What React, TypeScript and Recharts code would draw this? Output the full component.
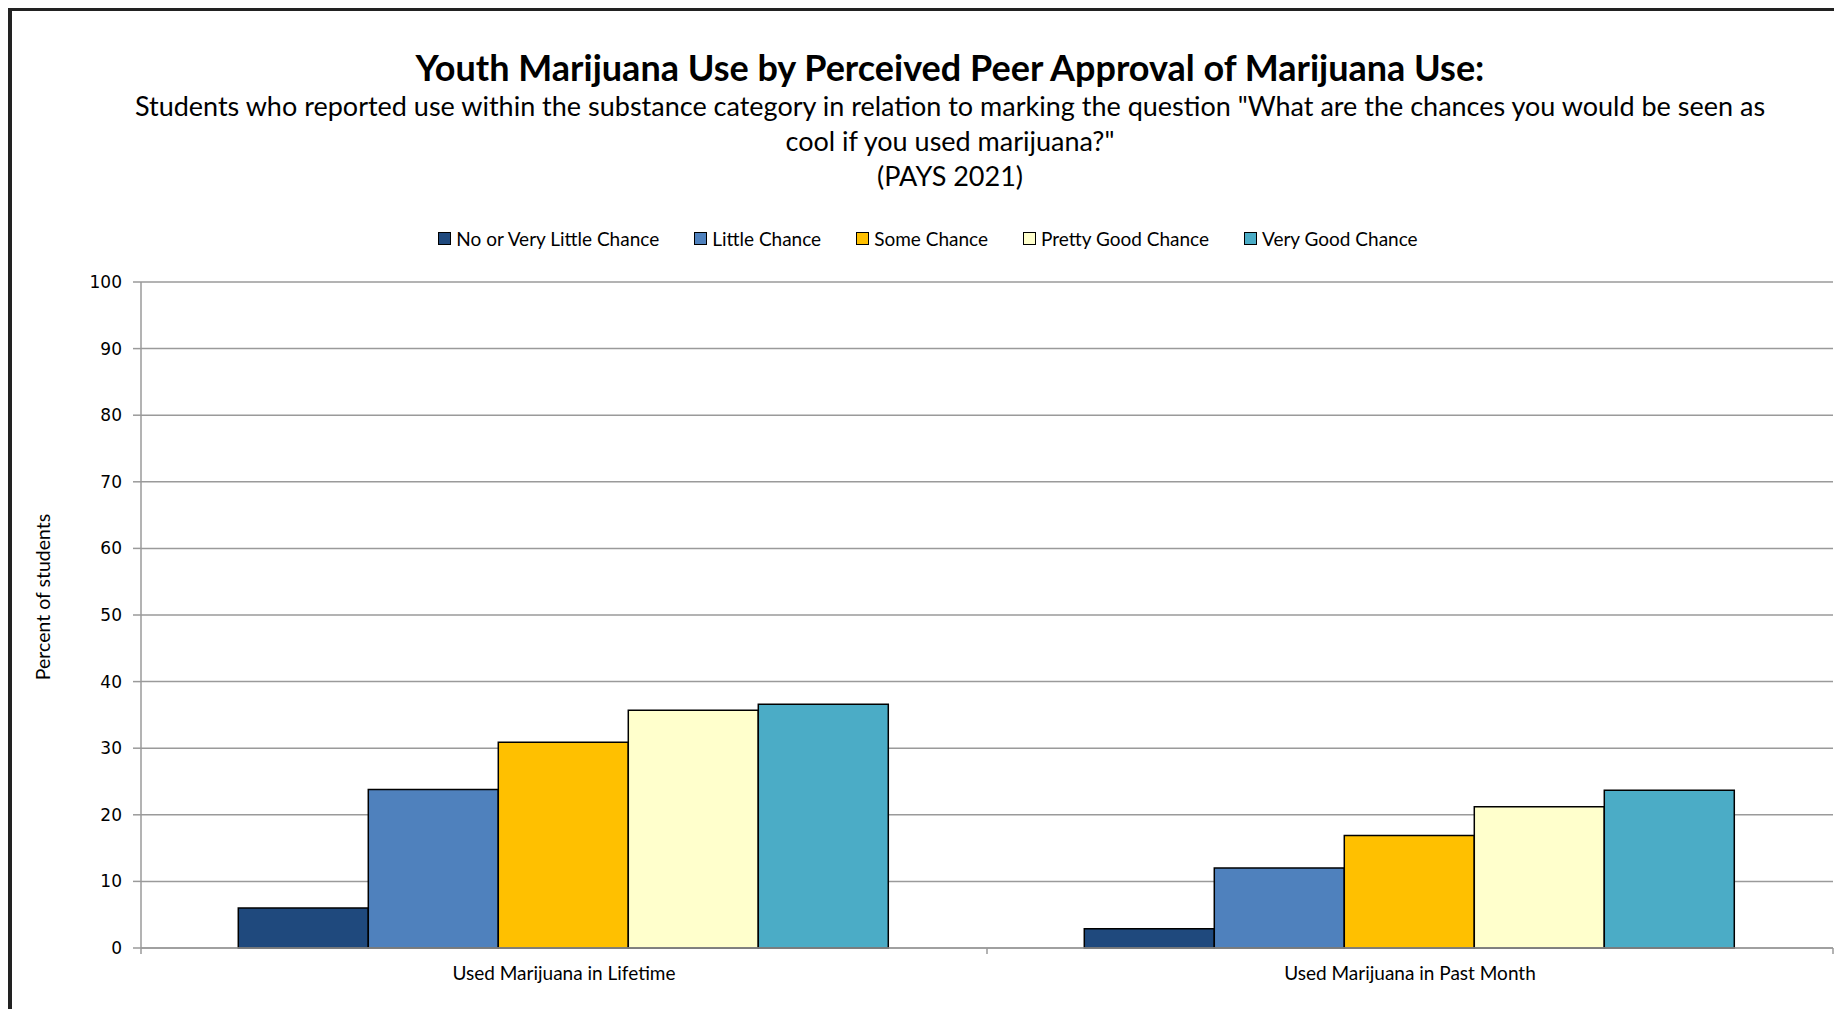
import { BarChart, Bar, XAxis, YAxis, CartesianGrid, Label } from "recharts";

const categories = ["Used Marijuana in Lifetime", "Used Marijuana in Past Month"];
const seriesNames = [
  "No or Very Little Chance",
  "Little Chance",
  "Some Chance",
  "Pretty Good Chance",
  "Very Good Chance",
];
const seriesColors = ["#1F497D", "#4F81BD", "#FFC000", "#FFFFCC", "#4BACC6"];
const noOrVeryLittleChance = [6.0, 2.9];
const littleChance = [23.8, 12.0];
const someChance = [30.9, 16.9];
const prettyGoodChance = [35.7, 21.2];
const veryGoodChance = [36.6, 23.7];
const yTicks = [0, 10, 20, 30, 40, 50, 60, 70, 80, 90, 100];

const seriesValues = [
  noOrVeryLittleChance,
  littleChance,
  someChance,
  prettyGoodChance,
  veryGoodChance,
];

const data = categories.map((name, i) => {
  const row: Record<string, string | number> = { name };
  seriesNames.forEach((s, j) => {
    row[s] = seriesValues[j][i];
  });
  return row;
});

const CHART_W = 1834;
const CHART_H = 1001;
const MARGIN = { top: 274, right: 9, bottom: 20, left: 0 };
const Y_AXIS_W = 133;
const X_AXIS_H = CHART_H - MARGIN.top - MARGIN.bottom - 666;
const BAND_W = (CHART_W - MARGIN.left - MARGIN.right - Y_AXIS_W) / categories.length;

const FONT = "Lato, 'Open Sans', sans-serif";
const GRID = "#9a9a9a";

function CategoryTick(props: any) {
  const { x, y, payload, index } = props;
  const left = x - BAND_W / 2;
  const right = x + BAND_W / 2;
  return (
    <g>
      <line x1={left} y1={y} x2={left} y2={y + 6} stroke={GRID} strokeWidth={1.5} />
      {index === categories.length - 1 && (
        <line x1={right} y1={y} x2={right} y2={y + 6} stroke={GRID} strokeWidth={1.5} />
      )}
      <text x={x} y={y + 32} textAnchor="middle" fontFamily={FONT} fontSize={19} fill="#000">
        {payload.value}
      </text>
    </g>
  );
}

export default function App() {
  return (
    <div style={{ position: "relative", width: CHART_W, height: CHART_H, background: "#fff" }}>
      <div
        style={{
          position: "absolute",
          top: -1,
          left: 0,
          width: CHART_W,
          height: CHART_H + 1,
          borderTop: "4px solid #222",
          borderLeft: "4px solid #222",
          boxSizing: "border-box",
          pointerEvents: "none",
        }}
      />
      <div
        style={{
          position: "absolute",
          left: 0,
          width: 1884,
          top: 0,
          textAlign: "center",
          fontFamily: FONT,
          color: "#000",
        }}
      >
        <div style={{ marginTop: 38, fontSize: 36, fontWeight: 700, lineHeight: "42px" }}>
          Youth Marijuana Use by Perceived Peer Approval of Marijuana Use:
        </div>
        <div style={{ fontSize: 27, lineHeight: "35px" }}>
          Students who reported use within the substance category in relation to marking the question
          "What are the chances you would be seen as
        </div>
        <div style={{ fontSize: 27, lineHeight: "35px" }}>cool if you used marijuana?"</div>
        <div style={{ fontSize: 27, lineHeight: "35px" }}>(PAYS 2021)</div>
      </div>
      <div
        style={{
          position: "absolute",
          top: 219,
          left: 0,
          width: 1840,
          height: 22,
          display: "flex",
          justifyContent: "center",
          alignItems: "center",
          fontFamily: FONT,
          fontSize: 19,
          color: "#000",
        }}
      >
        {seriesNames.map((s, i) => (
          <div
            key={s}
            style={{
              display: "flex",
              alignItems: "center",
              marginRight: i === seriesNames.length - 1 ? 0 : 35,
            }}
          >
            <span
              style={{
                width: 13,
                height: 13,
                background: seriesColors[i],
                border: "1.5px solid #000",
                boxSizing: "border-box",
                marginRight: 5,
              }}
            />
            <span>{s}</span>
          </div>
        ))}
      </div>
      <div style={{ position: "absolute", top: 0, left: 0 }}>
        <BarChart
          width={CHART_W}
          height={CHART_H}
          data={data}
          margin={MARGIN}
          barCategoryGap="11.5%"
          barGap={0}
        >
          <CartesianGrid vertical={false} stroke={GRID} strokeWidth={1.5} />
          <XAxis
            dataKey="name"
            height={X_AXIS_H}
            axisLine={{ stroke: GRID, strokeWidth: 1.5 }}
            tickLine={false}
            tickSize={0}
            tickMargin={0}
            tick={<CategoryTick />}
            interval={0}
          />
          <YAxis
            width={Y_AXIS_W}
            domain={[0, 100]}
            ticks={yTicks}
            interval={0}
            axisLine={{ stroke: GRID, strokeWidth: 1.5 }}
            tickLine={{ stroke: GRID, strokeWidth: 1.5 }}
            tickSize={8}
            tickMargin={11}
            tick={{ fontFamily: "'DejaVu Sans', sans-serif", fontSize: 17, fill: "#000" }}
          >
            <Label
              content={() => (
                <text
                  x={34}
                  y={589}
                  transform="rotate(-90 34 589)"
                  textAnchor="middle"
                  dominantBaseline="central"
                  fontFamily={FONT}
                  fontSize={19.5}
                  fill="#000"
                >
                  Percent of students
                </text>
              )}
            />
          </YAxis>
          {seriesNames.map((s, i) => (
            <Bar
              key={s}
              dataKey={s}
              fill={seriesColors[i]}
              stroke="#000"
              strokeWidth={1.5}
              isAnimationActive={false}
            />
          ))}
        </BarChart>
      </div>
    </div>
  );
}
